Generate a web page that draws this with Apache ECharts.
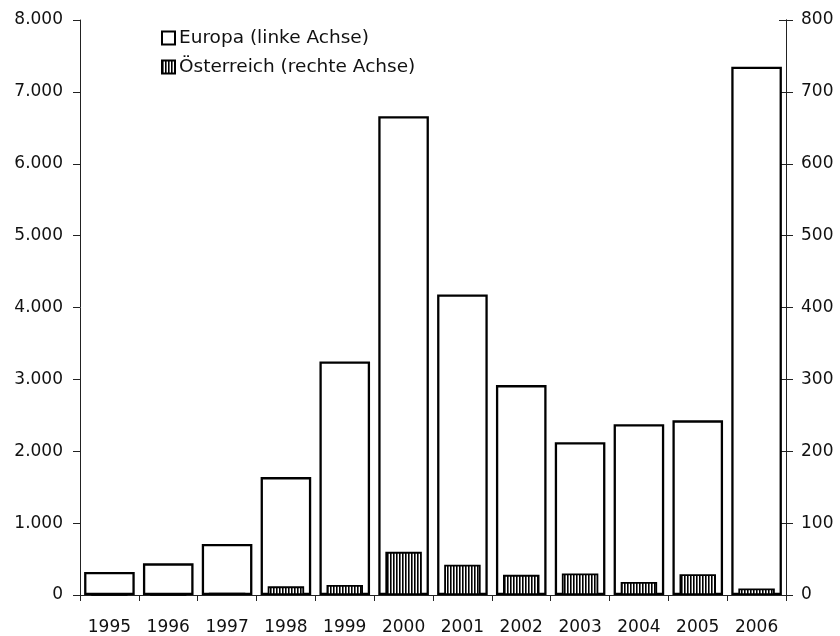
<!DOCTYPE html>
<html><head><meta charset="utf-8">
<script src="https://cdn.jsdelivr.net/npm/echarts@6/dist/echarts.min.js"></script>
<style>html,body{margin:0;padding:0;background:#fff}#c{width:840px;height:636px}</style>
</head><body><div id="c"></div>
<script>
const years = ['1995','1996','1997','1998','1999','2000','2001','2002','2003','2004','2005','2006'];
const europa = [320, 440, 710, 1640, 3250, 6660, 4180, 2920, 2125, 2375, 2430, 7350];
const oesterreich = [0.3, 0.3, 3, 12, 14, 60, 42, 28, 30, 18, 29, 9];
const leftTicks = {min: 0, max: 8000, interval: 1000};
const rightTicks = {min: 0, max: 800, interval: 100};

const cv = document.createElement('canvas');
cv.width = 3; cv.height = 4;
const cx = cv.getContext('2d');
cx.fillStyle = '#ffffff'; cx.fillRect(0,0,3,4);
cx.fillStyle = '#666'; cx.fillRect(1,0,1,4);
cx.fillStyle = '#000'; cx.fillRect(0,0,1,4);
const hatch = {image: cv, repeat: 'repeat'};

const font = 'DejaVu Sans';
const fmtDE = v => v.toLocaleString('de-DE');
const grid = {left: 80, right: 54, top: 20, bottom: 40};
const axLine = {show: true, lineStyle: {color: '#222', width: 1}};

function yAx(pos, tk, showLabel, inside, margin, fmt) {
  return {
    type: 'value', position: pos, min: tk.min, max: tk.max, interval: tk.interval,
    axisLine: axLine, splitLine: {show: false},
    axisTick: {show: true, inside: inside, length: 7, lineStyle: {color: '#222'}},
    axisLabel: {show: showLabel, margin: margin, color: '#111', fontFamily: font, fontSize: 17, formatter: fmt}
  };
}

const chart = echarts.init(document.getElementById('c'), null, {renderer: 'canvas'});
chart.setOption({
  animation: false,
  textStyle: {fontFamily: font},
  grid: grid,
  legend: {
    orient: 'vertical', left: 156, top: 23, itemWidth: 13, itemHeight: 13, itemGap: 9,
    icon: 'rect',
    textStyle: {fontFamily: font, fontSize: 18.5, color: '#111', lineHeight: 20, padding: [0,0,0,-1]},
    data: ['Europa (linke Achse)', 'Österreich (rechte Achse)']
  },
  xAxis: [
    {type: 'category', data: years, position: 'bottom',
     axisLine: {show: true, lineStyle: {color: '#222', width: 1}},
     axisTick: {show: true, length: 6, lineStyle: {color: '#222'}},
     axisLabel: {color: '#111', fontFamily: font, fontSize: 17, margin: 24}},
    {type: 'category', data: years, show: false}
  ],
  yAxis: [
    yAx('left', leftTicks, true, false, 17, v => fmtDE(v)),
    yAx('right', rightTicks, true, false, 15, v => String(v)),
    yAx('right', rightTicks, false, true, 15)
  ],
  series: [
    {name: 'Europa (linke Achse)', type: 'bar', xAxisIndex: 0, yAxisIndex: 0, data: europa,
     barWidth: '86%',
     itemStyle: {color: '#fff', borderColor: '#000', borderWidth: 2.3}},
    {name: 'Österreich (rechte Achse)', type: 'bar', xAxisIndex: 1, yAxisIndex: 1, data: oesterreich,
     barWidth: '62%', z: 3,
     itemStyle: {color: hatch, borderColor: '#000', borderWidth: 1.8}}
  ]
});
</script></body></html>
